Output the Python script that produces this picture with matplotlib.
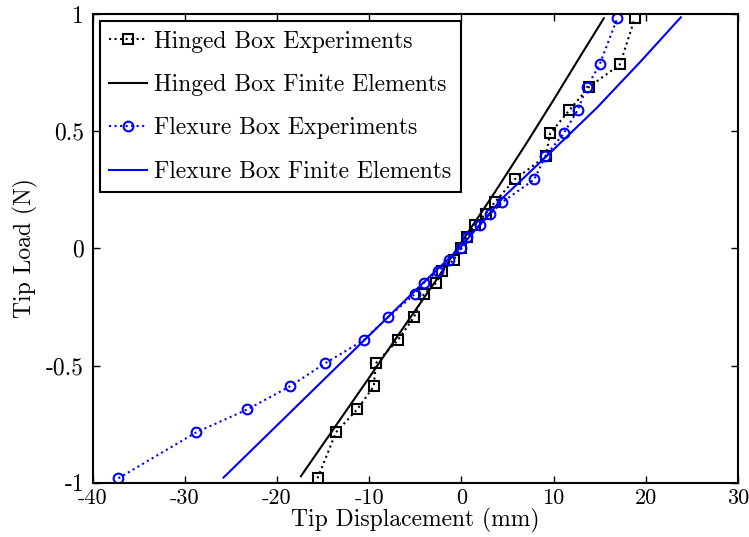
import numpy as np
import matplotlib
matplotlib.use('Agg')
import matplotlib.pyplot as plt

plt.rcParams['font.family'] = 'cmr10'
plt.rcParams['axes.unicode_minus'] = False
plt.rcParams['mathtext.fontset'] = 'cm'

# tip loads (N), same for both experiments
loads = [-0.981, -0.785, -0.687, -0.589, -0.491, -0.392, -0.294, -0.196, -0.147,
         -0.098, -0.049, 0.0, 0.049, 0.098, 0.147, 0.196, 0.294, 0.392, 0.491,
         0.589, 0.687, 0.785, 0.981]

# hinged box experiments, tip displacement (mm)
hinged_exp = [-15.6, -13.6, -11.3, -9.5, -9.3, -6.9, -5.15, -4.07, -2.72, -2.07,
              -0.85, 0.0, 0.6, 1.43, 2.62, 3.6, 5.77, 9.13, 9.64, 11.7, 13.8,
              17.2, 18.8]

# flexure box experiments, tip displacement (mm)
flexure_exp = [-37.2, -28.75, -23.2, -18.6, -14.8, -10.6, -7.97, -5.08, -4.07,
               -2.55, -1.35, 0.0, 0.64, 1.97, 3.13, 4.4, 7.9, 9.1, 11.1, 12.6,
               13.6, 15.0, 16.9]

# finite element curves
hinged_fe_load = [-0.972, -0.75, -0.56, -0.35, -0.134, 0.0, 0.216, 0.45, 0.64, 0.82, 0.982]
hinged_fe_disp = [-17.4, -13.5, -10.15, -6.5, -2.7, -0.45, 3.24, 7.08, 10.1, 12.9, 15.45]

flexure_fe_load = [-0.978, -0.75, -0.517, -0.3, -0.134, 0.0, 0.216, 0.42, 0.6, 0.8, 0.986]
flexure_fe_disp = [-25.8, -19.86, -13.8, -8.14, -3.8, -0.2, 4.5, 9.95, 14.7, 19.5, 23.8]

x_ticks = [-40, -30, -20, -10, 0, 10, 20, 30]
y_ticks = [-1, -0.5, 0, 0.5, 1]

fig = plt.figure(figsize=(7.49, 5.37), dpi=100)
ax = fig.add_axes([0.1236, 0.1011, 0.8617, 0.8728])

ax.plot(hinged_exp, loads, color='black', linestyle=':', linewidth=1.5,
        marker='s', markersize=6.5, markerfacecolor='none', markeredgewidth=1.5,
        label='Hinged Box Experiments')
ax.plot(hinged_fe_disp, hinged_fe_load, color='black', linewidth=1.5,
        label='Hinged Box Finite Elements')
ax.plot(flexure_exp, loads, color='blue', linestyle=':', linewidth=1.5,
        marker='o', markersize=7, markerfacecolor='none', markeredgewidth=1.5,
        label='Flexure Box Experiments')
ax.plot(flexure_fe_disp, flexure_fe_load, color='blue', linewidth=1.5,
        label='Flexure Box Finite Elements')

ax.set_xlim(-40, 30)
ax.set_ylim(-1, 1)
ax.set_xticks(x_ticks, labels=[f'{t:g}' for t in x_ticks])
ax.set_yticks(y_ticks, labels=[f'{t:g}' for t in y_ticks])
ax.tick_params(direction='in', length=5, width=1, top=True, right=True,
               labelsize=17)
ax.tick_params(axis='x', pad=4, labelsize=16)
ax.tick_params(axis='y', pad=6)
for s in ax.spines.values():
    s.set_linewidth(1.5)

ax.set_xlabel('Tip Displacement (mm)', fontsize=17, labelpad=0)
ax.set_ylabel('Tip Load (N)', fontsize=17, labelpad=6)

leg = ax.legend(loc='upper left', fontsize=17, frameon=True, fancybox=False,
                edgecolor='black', framealpha=1, borderaxespad=0.3,
                labelspacing=0.9, handlelength=1.6, handletextpad=0.3,
                borderpad=0.4)
leg.get_frame().set_linewidth(1.5)

fig.savefig('out.png', dpi=100)
